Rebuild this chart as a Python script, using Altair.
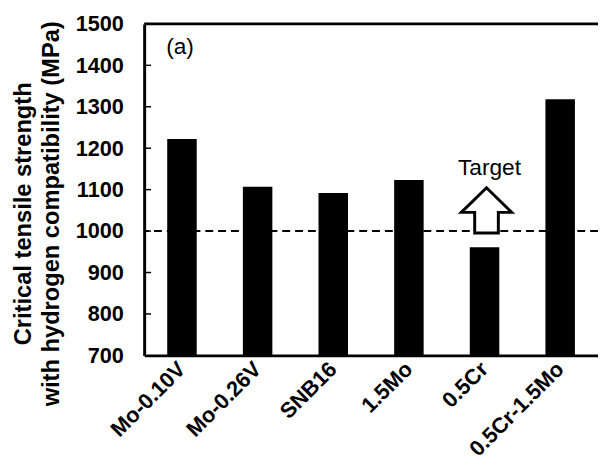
import altair as alt
import pandas as pd

categories = ["Mo-0.10V", "Mo-0.26V", "SNB16", "1.5Mo", "0.5Cr", "0.5Cr-1.5Mo"]
strengths = [1222, 1107, 1092, 1123, 961, 1318]
y_ticks = [700, 800, 900, 1000, 1100, 1200, 1300, 1400, 1500]
inner_ticks = [800, 900, 1000, 1100, 1200, 1300, 1400]
target_level = 1000
top_level = 1500
arrow_cat = "0.5Cr"
arrow_level = 1050
target_text = "Target"
target_text_level = 1152
panel_text = "(a)"
panel_cat = "Mo-0.10V"
panel_text_level = 1445
y_title = ["Critical tensile strength", "with hydrogen compatibility (MPa)"]

FONT = "Liberation Sans"

bars_df = pd.DataFrame({"cat": categories, "val": strengths})
ticks_df = pd.DataFrame({"val": inner_ticks})
target_df = pd.DataFrame({"val": [target_level]})
top_df = pd.DataFrame({"val": [top_level]})
arrow_df = pd.DataFrame({"cat": [arrow_cat], "val": [arrow_level]})
ttext_df = pd.DataFrame({"cat": [arrow_cat], "val": [target_text_level], "txt": [target_text]})
ptext_df = pd.DataFrame({"cat": [panel_cat], "val": [panel_text_level], "txt": [panel_text]})

xscale = alt.Scale(domain=categories, paddingInner=0.61, paddingOuter=0.305)
yscale = alt.Scale(domain=[700, 1500], nice=False, zero=False)

x_axis = alt.Axis(title=None, labelAngle=-45, labelAlign="right", labelBaseline="middle",
                  labelFont=FONT, labelFontWeight="bold", labelFontSize=22, labelColor="black",
                  ticks=False, domainColor="black", domainWidth=3, labelPadding=10)
y_axis = alt.Axis(values=y_ticks, format="d", title=y_title, titleFont=FONT, titleFontWeight="bold",
                  titleFontSize=24, titleLineHeight=28, titleColor="black", titlePadding=12,
                  titleY=192,
                  labelFont=FONT, labelFontWeight="bold", labelFontSize=22, labelColor="black",
                  ticks=False, labelPadding=21, grid=False,
                  domainColor="black", domainWidth=3)


def xe():
    return alt.X("cat:N", scale=xscale, sort=categories, axis=x_axis)


def ye():
    return alt.Y("val:Q", scale=yscale, axis=y_axis)


bars = alt.Chart(bars_df).mark_bar(color="black", clip=True).encode(
    x=xe(),
    y=ye(),
    y2=alt.Y2(datum=700),
)

dash = alt.Chart(target_df).mark_rule(color="black", strokeWidth=2, strokeDash=[8, 5]).encode(
    y=ye()
)

top = alt.Chart(top_df).mark_rule(color="black", strokeWidth=3).encode(
    y=ye()
)

ticks = alt.Chart(ticks_df).mark_rule(color="black", strokeWidth=1.5).encode(
    y=ye(),
    x=alt.value(0), x2=alt.value(7)
)

arrow_path = "M 0 -0.9 L 1 0.08 L 0.47 0.08 L 0.47 0.9 L -0.47 0.9 L -0.47 0.08 L -1 0.08 Z"
arrow = alt.Chart(arrow_df).mark_point(shape=arrow_path, size=2601, filled=True, fill="white",
                                       stroke="black", strokeWidth=3, opacity=1, xOffset=2).encode(
    x=xe(),
    y=ye()
)

ttext = alt.Chart(ttext_df).mark_text(font=FONT, fontSize=23, color="black", baseline="middle",
                                      align="center", dx=5).encode(
    x=xe(),
    y=ye(),
    text="txt:N"
)

ptext = alt.Chart(ptext_df).mark_text(font=FONT, fontSize=23, color="black", baseline="middle",
                                      align="center", dx=-2).encode(
    x=xe(),
    y=ye(),
    text="txt:N"
)

chart = alt.layer(bars, dash, top, ticks, arrow, ttext, ptext).properties(
    width=460, height=336,
    autosize=alt.AutoSizeParams(type="none"),
    padding={"left": 138, "top": 13, "right": 0, "bottom": 108},
    background="white",
).configure_view(stroke=None)

chart.save("out.html", embed_options={"renderer": "svg", "actions": False})
